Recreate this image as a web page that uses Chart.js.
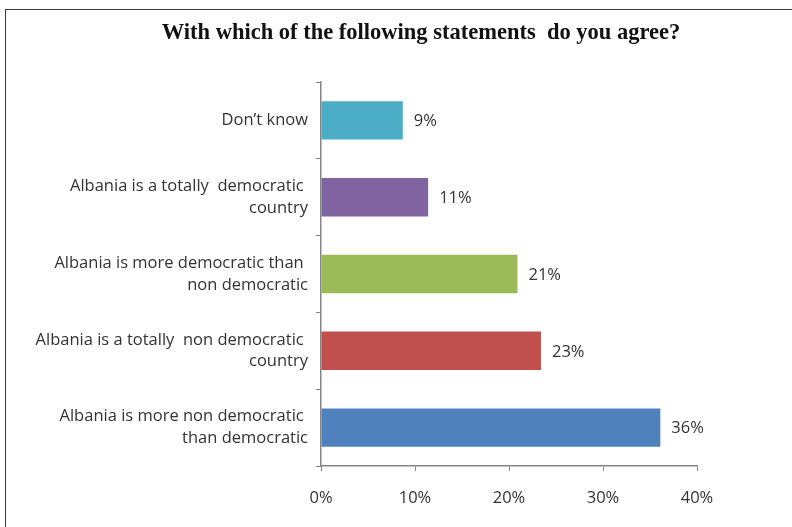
<!DOCTYPE html>
<html>
<head>
<meta charset="utf-8">
<script src="https://cdn.jsdelivr.net/npm/chart.js@4"></script>
<style>
    html, body { margin: 0; padding: 0; background: #fff; overflow: hidden; }
    #wrap { position: relative; width: 792px; height: 527px; }
    #frame { position: absolute; left: 5px; top: 9px; width: 800px; height: 540px; border: 1.5px solid #3a3a3a; box-sizing: border-box; }
    canvas { position: absolute; left: 0; top: 0; }
</style>
</head>
<body>
<div id="wrap">
    <div id="frame"></div>
    <canvas id="chart" width="792" height="527"></canvas>
</div>
<script>
    'use strict';

    const titleText = 'With which of the following statements  do you agree?';
    const categories = [
        ["Don\u2019t know"],
        ['Albania is a totally  democratic ', 'country'],
        ['Albania is more democratic than ', 'non democratic'],
        ['Albania is a totally  non democratic ', 'country'],
        ['Albania is more non democratic ', 'than democratic']
    ];
    const shares = [8.7, 11.4, 20.9, 23.4, 36.1];
    const barColors = ['#4BACC6', '#8064A2', '#9BBB59', '#C0504D', '#4F81BD'];
    const xTicks = [0, 10, 20, 30, 40];

    const textFont = 'Open Sans';
    const textSize = 16.5;
    const axisColor = '#868686';

    // title is centred on the frame, not on the plot, so draw it by hand
    const frameTitle = {
        id: 'frameTitle',
        afterDraw(chart) {
            const ctx = chart.ctx;
            ctx.save();
            ctx.font = 'bold 22.5px "Liberation Serif"';
            ctx.fillStyle = '#111';
            ctx.textAlign = 'center';
            ctx.textBaseline = 'middle';
            ctx.fillText(titleText, 421, 33);
            ctx.restore();
        }
    };

    const barValueLabels = {
        id: 'barValueLabels',
        afterDatasetsDraw(chart) {
            const ctx = chart.ctx;
            const meta = chart.getDatasetMeta(0);
            ctx.save();
            ctx.font = textSize + 'px "' + textFont + '"';
            ctx.fillStyle = '#333';
            ctx.textAlign = 'left';
            ctx.textBaseline = 'middle';
            meta.data.forEach(function(bar, i) {
                ctx.fillText(Math.round(shares[i]) + '%', bar.x + 11, bar.y + 1);
            });
            ctx.restore();
        }
    };

    new Chart(document.getElementById('chart'), {
        type: 'bar',
        data: {
            labels: categories,
            datasets: [{
                data: shares,
                backgroundColor: barColors,
                borderWidth: 0,
                barPercentage: 0.5,
                categoryPercentage: 1
            }]
        },
        options: {
            indexAxis: 'y',
            responsive: false,
            animation: false,
            layout: { padding: { top: 82, right: 95, bottom: 0, left: 0 } },
            plugins: {
                legend: { display: false },
                tooltip: { enabled: false },
                title: { display: false }
            },
            scales: {
                x: {
                    min: 0,
                    max: 40,
                    afterBuildTicks(scale) {
                        scale.ticks = xTicks.map(v => ({ value: v }));
                    },
                    afterFit(scale) { scale.height = 61; },
                    grid: { display: true, drawOnChartArea: false, drawTicks: true, tickLength: 5, color: axisColor },
                    border: { display: true, color: axisColor, width: 1.5 },
                    ticks: {
                        padding: 17,
                        color: '#333',
                        font: { family: textFont, size: textSize },
                        callback: v => v + '%'
                    }
                },
                y: {
                    afterFit(scale) { scale.width = 321; },
                    grid: { display: true, drawOnChartArea: false, drawTicks: true, tickLength: 5, color: axisColor, offset: true },
                    border: { display: true, color: axisColor, width: 1.5 },
                    ticks: {
                        padding: 8,
                        color: '#333',
                        font: { family: textFont, size: textSize, lineHeight: 1.33 }
                    }
                }
            }
        },
        plugins: [frameTitle, barValueLabels]
    });
</script>
</body>
</html>
